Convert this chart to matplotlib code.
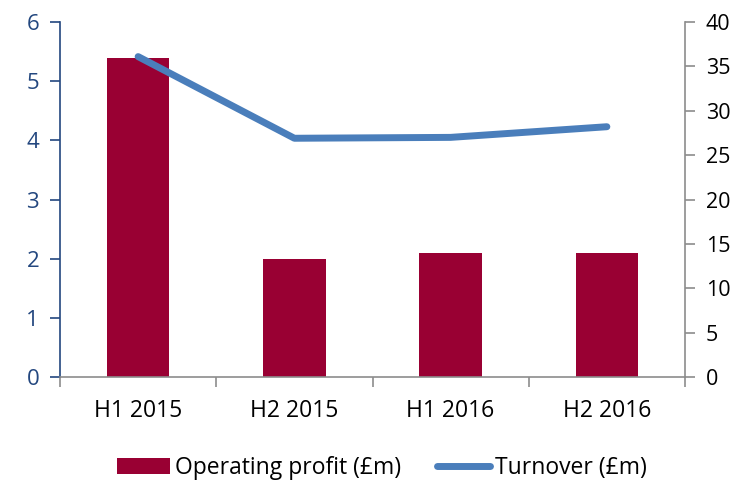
import numpy as np
import matplotlib
matplotlib.use("Agg")
import matplotlib.pyplot as plt

periods = ["H1 2015", "H2 2015", "H1 2016", "H2 2016"]
op_profit = [5.4, 2.0, 2.1, 2.1]
turnover = [36.1, 26.9, 27.0, 28.2]

plt.rcParams["font.family"] = ["Open Sans", "DejaVu Sans"]
BAR = "#990033"; LINE = "#4A7EBB"; NAVY = "#23477F"; GREY = "#8C8C8C"

fig = plt.figure(figsize=(7.43, 4.8), dpi=100)
ax = fig.add_axes([60/743, 103/480, 625/743, 355/480])
x = np.arange(len(periods))
b = ax.bar(x, op_profit, width=0.4, color=BAR, label="Operating profit (£m)", zorder=2)
ax.set_xlim(-0.5, 3.5)
ax.set_ylim(0, 6)
ax.set_yticks(range(7))
ax.set_xticks(x)
ax.set_xticklabels(periods, fontsize=16.5)
ax.set_xticks(np.arange(-0.5, 4.0, 1.0), minor=True)
ax.tick_params(axis="x", which="major", length=0, pad=16)
ax.tick_params(axis="x", which="minor", length=7, color=GREY, width=1.2)
ax.tick_params(axis="y", colors=NAVY, labelsize=16, length=7, width=1.2, pad=8)
for s in ["top", "right"]:
    ax.spines[s].set_visible(False)
ax.spines["left"].set_color(NAVY); ax.spines["left"].set_linewidth(1.2)
ax.spines["bottom"].set_color(GREY); ax.spines["bottom"].set_linewidth(1.2)

ax2 = ax.twinx()
ln, = ax2.plot(x, turnover, color=LINE, lw=5, solid_capstyle="round",
               solid_joinstyle="round", label="Turnover (£m)", zorder=3)
ax2.set_ylim(0, 40)
ax2.set_yticks(range(0, 41, 5))
ax2.tick_params(axis="y", colors=GREY, labelcolor="black", labelsize=15.5, length=7, width=1.2, pad=8)
for s in ["top", "left", "bottom"]:
    ax2.spines[s].set_visible(False)
ax2.spines["right"].set_color(GREY); ax2.spines["right"].set_linewidth(1.2)

fig.legend([b, ln], ["Operating profit (£m)", "Turnover (£m)"], loc="center",
           bbox_to_anchor=(0.514, 0.025), ncol=2, frameon=False, fontsize=16.5,
           handlelength=2.3, handleheight=0.65, handletextpad=0.2, columnspacing=1.6,
           borderpad=0, borderaxespad=0)
fig.savefig("out.png", dpi=100)
